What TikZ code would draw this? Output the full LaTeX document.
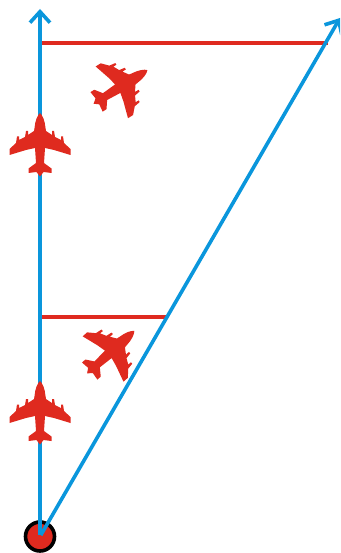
\documentclass[tikz,border=0pt]{standalone}
\usetikzlibrary{arrows.meta}
\definecolor{planered}{HTML}{DF2A1F}
\definecolor{rayblue}{HTML}{0A96DC}
\tikzset{
	ray/.style={draw=rayblue,line width=3.6pt,shorten <=1.5pt,-{Straight Barb[length=11pt,width=20pt,line width=3.6pt]}},
	level/.style={draw=planered,line width=3.4pt},
	origin/.style={draw=black,fill=planered,line width=3.6pt},
	plane/.pic={
		\fill[planered] (0,-30) .. controls (2.5,-28) and (5,-22) .. (5.5,-15)
			-- (6,-12) -- (12,-8) -- (12,-12) -- (14,-12) -- (15,-6)
			-- (21,-3) -- (21,-6.5) -- (23,-6.5) -- (24,0) -- (30.5,6) -- (30.5,12)
			-- (14,7) -- (5,5) -- (4,20) -- (11.5,25.5) -- (11.5,30) -- (3.5,29) -- (0,33.5)
			-- (-3.5,29) -- (-11.5,30) -- (-11.5,25.5) -- (-4,20) -- (-5,5) -- (-14,7)
			-- (-30.5,12) -- (-30.5,6) -- (-24,0) -- (-23,-6.5) -- (-21,-6.5) -- (-21,-3)
			-- (-15,-6) -- (-14,-12) -- (-12,-12) -- (-12,-8) -- (-6,-12) -- (-5.5,-15)
			.. controls (-5,-22) and (-2.5,-28) .. (0,-30) -- cycle;
	}
}
\begin{document}
\begin{tikzpicture}[x=1pt,y=-1pt]
	\useasboundingbox (0,0) rectangle (340,553);
	\clip (0,0) rectangle (340,553);

	\coordinate (o) at (40,536.5);
	\coordinate (v) at (40,9);
	\coordinate (d) at (340,18);
	\coordinate (a) at (40,43);
	\coordinate (b) at (328,43);
	\coordinate (c) at (40,317);
	\coordinate (e) at (167,317);

	\draw[origin] (o) circle (14.5pt);

	\draw[level] (a) -- (b);
	\draw[level] (c) -- (e);

	\draw[ray] (o) -- (v);
	\draw[ray] (o) -- (d);

	\pic at (40,143) {plane};
	\pic at (40,411) {plane};
	\pic[rotate=-58] at (122,86) {plane};
	\pic[rotate=-48] at (112,351) {plane};
\end{tikzpicture}
\end{document}
